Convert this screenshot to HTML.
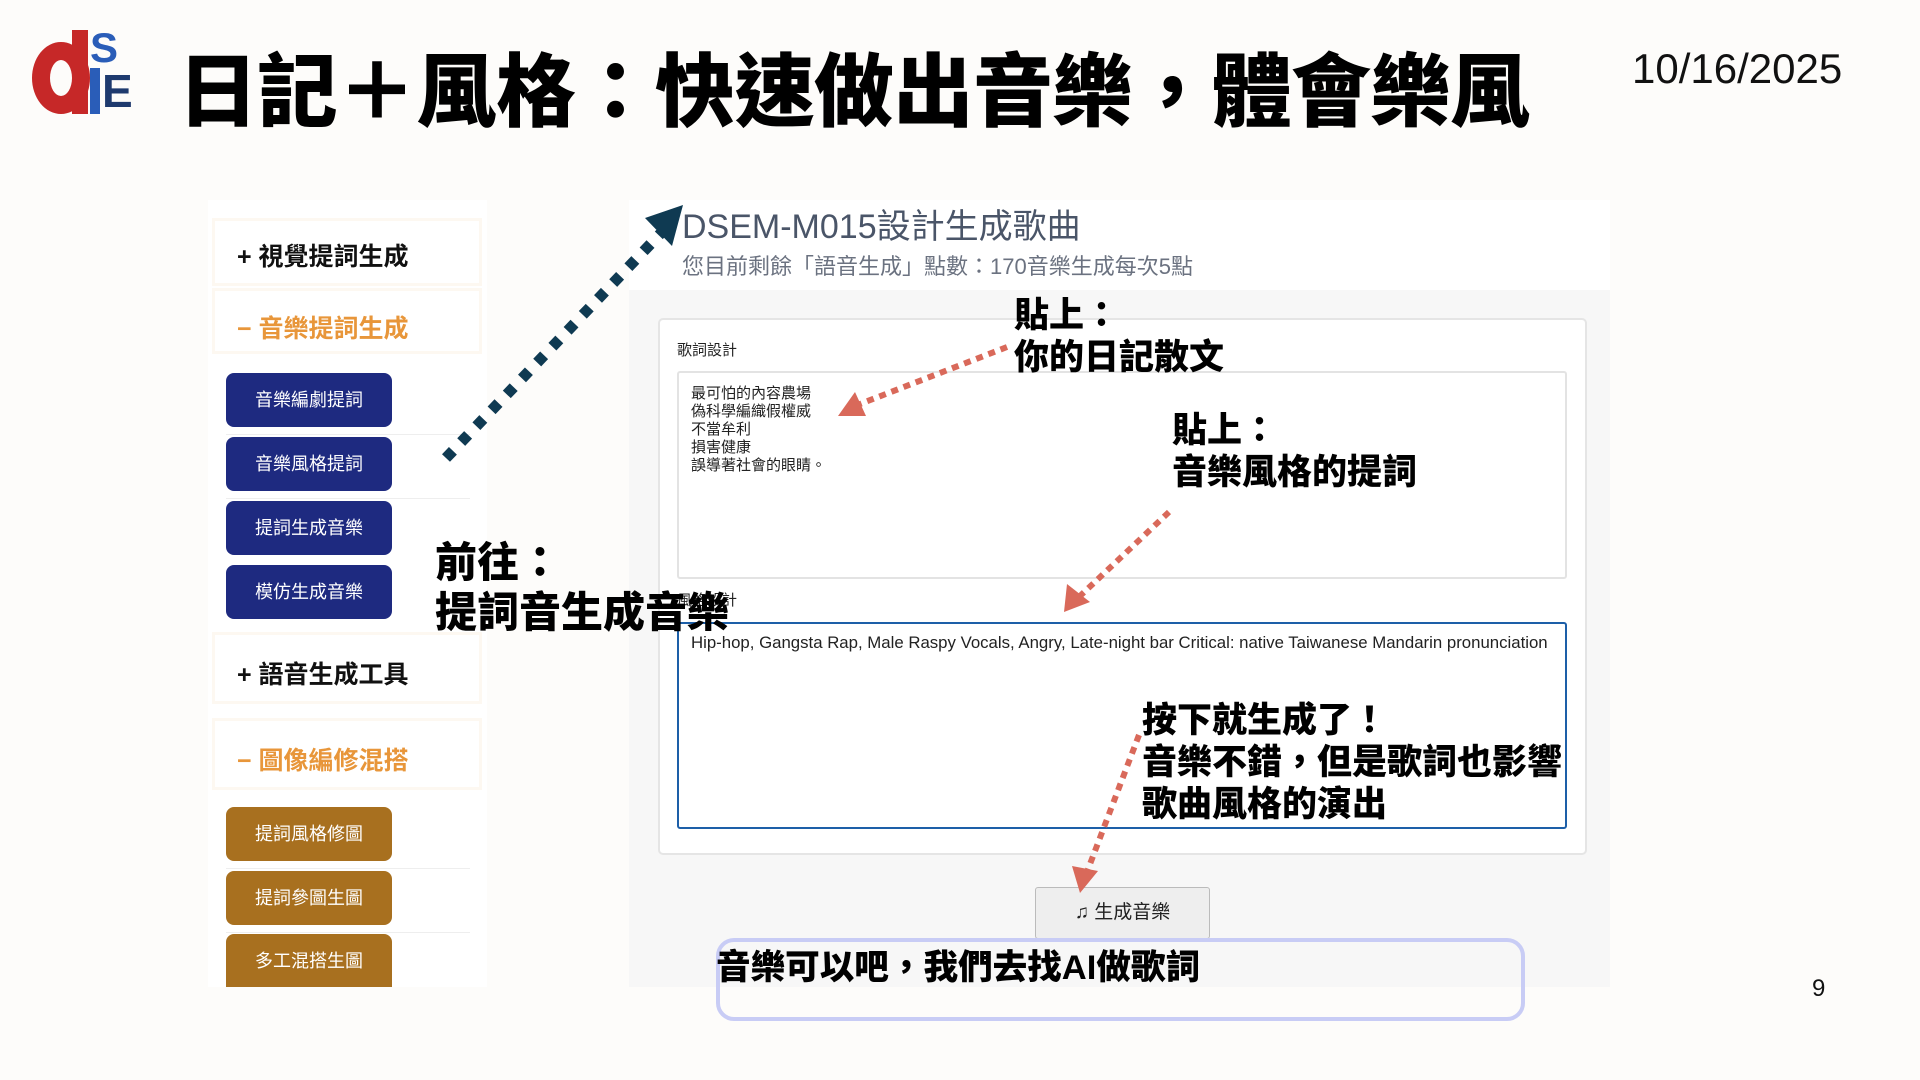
<!DOCTYPE html>
<html><head><meta charset="utf-8">
<style>
*{margin:0;padding:0;box-sizing:border-box}
body{width:1920px;height:1080px;background:#fdfcfa;position:relative;overflow:hidden;font-family:"Liberation Sans","Noto Sans CJK TC",sans-serif}
.a{position:absolute}
.title{left:178px;top:28px;font-size:80px;font-weight:900;color:#000;white-space:nowrap;letter-spacing:-0.5px}
.date{left:1632px;top:45px;font-size:42px;color:#111}
.side{left:208px;top:200px;width:279px;height:787px;background:#fff}
.sec{position:absolute;left:4px;width:270px;background:#fff;border:3px solid #fdf8f1}
.st{position:absolute;left:22px;font-size:25px;font-weight:700;white-space:nowrap}
.btn{position:absolute;left:18px;width:166px;height:54px;border-radius:8px;color:#fff;font-size:18px;text-align:center;line-height:54px}
.blue{background:#1e2a80}.brown{background:#a8701f}
.sep{position:absolute;left:18px;width:244px;height:1px;background:#eee}
.main{left:629px;top:290px;width:981px;height:697px;background:#f7f7f7}
.anno{font-size:35px;font-weight:900;color:#000;line-height:42px;white-space:nowrap}
</style></head><body>
<!-- logo -->
<div class="a" style="left:32px;top:42px;width:58px;height:72px;border-radius:50%;border:18px solid #c62828;"></div>
<div class="a" style="left:72px;top:30px;width:16px;height:84px;background:#c62828"></div>
<div class="a" style="left:90px;top:28px;font-size:42px;font-weight:900;color:#2a5db8;line-height:40px">S</div>
<div class="a" style="left:90px;top:68px;width:10px;height:46px;background:#2a5db8"></div>
<div class="a" style="left:102px;top:68px;font-size:46px;font-weight:900;color:#1e3a6e;line-height:46px">E</div>
<div class="a title">日記＋風格：快速做出音樂，體會樂風</div>
<div class="a date">10/16/2025</div>

<div class="a side">
 <div class="sec" style="top:18px;height:68px"><div class="st" style="top:16px;color:#111">+ 視覺提詞生成</div></div>
 <div class="sec" style="top:88px;height:66px"><div class="st" style="top:18px;color:#e8963a">− 音樂提詞生成</div></div>
 <div class="btn blue" style="top:173px">音樂編劇提詞</div>
 <div class="sep" style="top:234px"></div>
 <div class="btn blue" style="top:237px">音樂風格提詞</div>
 <div class="sep" style="top:298px"></div>
 <div class="btn blue" style="top:301px">提詞生成音樂</div>
 <div class="btn blue" style="top:365px">模仿生成音樂</div>
 <div class="sec" style="top:432px;height:72px"><div class="st" style="top:20px;color:#111">+ 語音生成工具</div></div>
 <div class="sec" style="top:518px;height:72px"><div class="st" style="top:20px;color:#e8963a">− 圖像編修混搭</div></div>
 <div class="btn brown" style="top:607px">提詞風格修圖</div>
 <div class="sep" style="top:668px"></div>
 <div class="btn brown" style="top:671px">提詞參圖生圖</div>
 <div class="sep" style="top:732px"></div>
 <div class="btn brown" style="top:734px;height:53px;border-radius:8px 8px 0 0">多工混搭生圖</div>
</div>

<div class="a" style="left:629px;top:200px;width:981px;height:90px;background:#fff"></div>
<div class="a" style="left:682px;top:199px;font-size:34px;color:#4a5568;white-space:nowrap">DSEM-M015設計生成歌曲</div>
<div class="a" style="left:682px;top:249px;font-size:22px;color:#6b7280;white-space:nowrap">您目前剩餘「語音生成」點數：170音樂生成每次5點</div>
<div class="a main"></div>
<div class="a" style="left:658px;top:318px;width:929px;height:537px;background:#fff;border:2px solid #e5e5e5;border-radius:5px"></div>
<div class="a" style="left:677px;top:339px;font-size:15px;color:#222">歌詞設計</div>
<div class="a" style="left:677px;top:371px;width:890px;height:208px;border:2px solid #e3e3e3;border-radius:3px;background:#fff"></div>
<div class="a" style="left:691px;top:385px;font-size:15px;line-height:18px;color:#222">最可怕的內容農場<br>偽科學編織假權威<br>不當牟利<br>損害健康<br>誤導著社會的眼睛。</div>
<div class="a" style="left:677px;top:589px;font-size:15px;color:#222">風格設計</div>
<div class="a" style="left:677px;top:622px;width:890px;height:207px;border:2px solid #1d5fa8;border-radius:3px;background:#fff"></div>
<div class="a" style="left:691px;top:633px;font-size:16.8px;color:#222;white-space:nowrap">Hip-hop, Gangsta Rap, Male Raspy Vocals, Angry, Late-night bar Critical: native Taiwanese Mandarin pronunciation</div>
<div class="a" style="left:1035px;top:887px;width:175px;height:52px;background:#eee;border:1px solid #bbb;border-radius:3px;font-size:19px;line-height:50px;text-align:center;color:#222">♫ 生成音樂</div>
<div class="a" style="left:716px;top:938px;width:809px;height:83px;border:4px solid #c8ccf5;border-radius:18px"></div>
<div class="a anno" style="left:716px;top:947px;font-size:34.6px">音樂可以吧，我們去找AI做歌詞</div>

<div class="a anno" style="left:435px;top:538px;font-size:42px;line-height:50px">前往：<br>提詞音生成音樂</div>
<div class="a anno" style="left:1014px;top:295px">貼上：<br>你的日記散文</div>
<div class="a anno" style="left:1172px;top:410px">貼上：<br>音樂風格的提詞</div>
<div class="a anno" style="left:1142px;top:700px">按下就生成了！<br>音樂不錯，但是歌詞也影響<br>歌曲風格的演出</div>
<div class="a" style="left:1812px;top:975px;font-size:24px;color:#111">9</div>

<svg class="a" style="left:0;top:0" width="1920" height="1080">
 <line x1="446" y1="458" x2="662" y2="232" stroke="#0f3a52" stroke-width="11" stroke-dasharray="10 12"/>
 <polygon points="683,205 645,218 672,246" fill="#0f3a52"/>
 <g stroke="#d9695a" stroke-width="6" stroke-dasharray="7 6" fill="none">
  <line x1="1007" y1="347" x2="860" y2="404"/>
  <line x1="1169" y1="512" x2="1080" y2="596"/>
  <line x1="1139" y1="735" x2="1087" y2="872"/>
 </g>
 <g fill="#d9695a">
  <polygon points="838,416 855,392 866,416"/>
  <polygon points="1064,612 1067,584 1090,602"/>
  <polygon points="1080,893 1072,866 1098,871"/>
 </g>
</svg>
</body></html>
